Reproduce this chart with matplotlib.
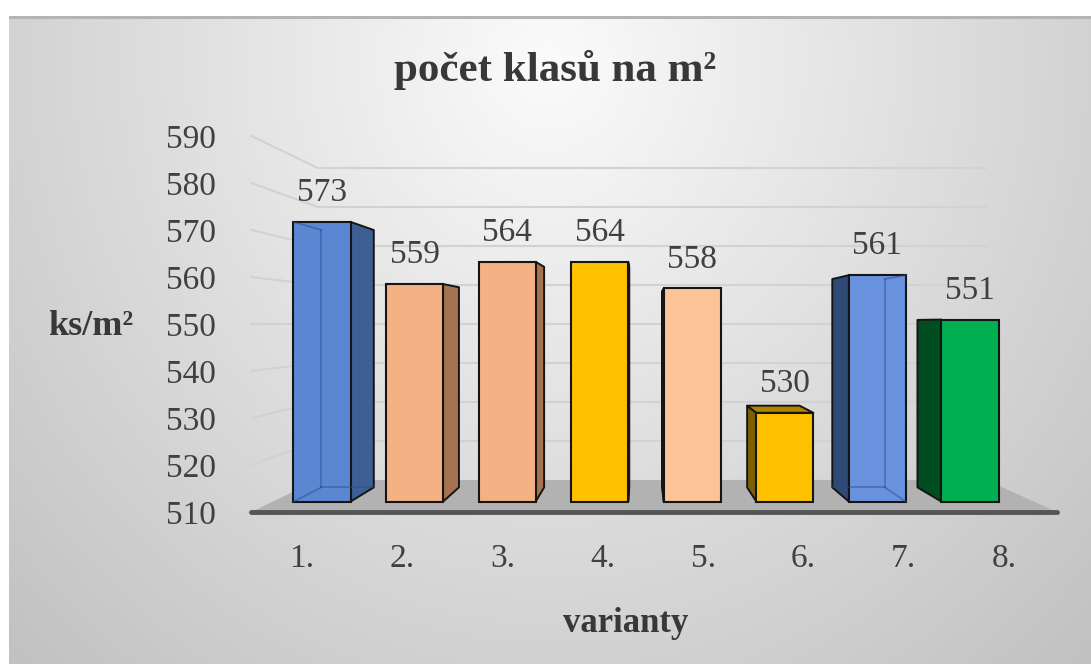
import numpy as np
import matplotlib
matplotlib.use('Agg')
import matplotlib.pyplot as plt
from matplotlib.patches import Polygon
from matplotlib.transforms import blended_transform_factory

# ---------------- data ----------------
categories = ['1.', '2.', '3.', '4.', '5.', '6.', '7.', '8.']
values = [573, 559, 564, 564, 558, 530, 561, 551]
y_ticks = [510, 520, 530, 540, 550, 560, 570, 580, 590]
front_colors = ['#5a86d2', '#f4b183', '#f4b183', '#ffc000', '#fbc398', '#ffc000', '#6892de', '#00b050']
side_colors = ['#3e5f94', '#a5734f', '#a5734f', '#a37b00', '#a98060', '#7f6000', '#2f4a74', '#004d21']
top_colors = ['#4a70b4', '#c98f66', '#c98f66', '#c99800', '#d29f7a', '#b08600', '#5078c0', '#008a3e']
translucent = [True, False, False, False, False, False, True, False]
title = 'počet klasů na m²'
y_label = 'ks/m²'
x_label = 'varianty'

# ---------------- layout ----------------
W, H = 1091, 664
plt.rcParams['font.family'] = ['Liberation Serif', 'DejaVu Serif']
TXT = '#404040'

BASE = y_ticks[0]
XC, VC = 3.45, 550.0           # vanishing centre (data units)
S_FRONT, S_BACK, S_WALL = 1.0586, 0.92, 0.878
BAR_W = 0.616
FLOOR_L, FLOOR_R = -0.53, 7.69
PX_CAT, X_ORG = 92.57, 322.0   # pixels per category, pixel of first bar
PX_VAL, HOR_PX = 4.44, 324.0   # pixels per value unit, horizon pixel from top


def proj(x, v, s):
    return XC + (x - XC) * s, VC + (v - VC) * s


fig = plt.figure(figsize=(W / 100, H / 100), dpi=100)
fig.patch.set_facecolor('white')

# background gradient panel
bg = fig.add_axes([9 / W, 0, 1 - 9 / W, (H - 16) / H])
bh, bw = H - 16, W - 9
yy, xx = np.mgrid[0:bh, 0:bw]
r = np.sqrt(((xx - 540) / 600.0) ** 2 + ((yy - 45) / 650.0) ** 2)
val = np.clip(251 - 45 * r, 186, 252) / 255.0
bg.imshow(np.dstack([val, val, val]), aspect='auto', extent=(0, bw, bh, 0))
bg.set_xlim(0, bw)
bg.set_ylim(bh, 0)
bg.axis('off')
bg.plot([0, bw], [1, 1], color='#b4b4b4', lw=2.2, zorder=5)

# main drawing axes (data coordinates)
ax = fig.add_axes([0, 0, 1, 1])
ax.set_xlim(-X_ORG / PX_CAT, (W - X_ORG) / PX_CAT)
ax.set_ylim(VC - (H - HOR_PX) / PX_VAL, VC + HOR_PX / PX_VAL)
ax.patch.set_alpha(0)
ax.axis('off')

GRID = '#d2d2d2'
for v in y_ticks[1:]:
    p1 = proj(FLOOR_L, v, S_WALL)
    p2 = proj(FLOOR_R, v, S_WALL)
    ax.plot([p1[0], p2[0]], [p1[1], p2[1]], color=GRID, lw=1.5, zorder=1)
    q1 = proj(FLOOR_L, v, S_FRONT)
    ax.plot([q1[0], p1[0]], [q1[1], p1[1]], color=GRID, lw=1.5, zorder=1)

# floor
floor = [proj(FLOOR_L, BASE, S_FRONT), proj(FLOOR_R, BASE, S_FRONT),
         proj(FLOOR_R, BASE, S_WALL), proj(FLOOR_L, BASE, S_WALL)]
ax.add_patch(Polygon(floor, closed=True, facecolor='#b2b2b2', edgecolor='none', zorder=2))
f1, f2 = floor[0], floor[1]
ax.plot([f1[0], f2[0]], [f1[1], f2[1]], color='#555555', lw=3.5,
        solid_capstyle='round', zorder=2.5)

xs = np.arange(len(values))
EDGE = '#151515'

# side and top faces
for i, v in enumerate(values):
    x = xs[i]
    edge_x = x + BAR_W / 2 if x < XC else x - BAR_W / 2
    side = [proj(edge_x, BASE, 1), proj(edge_x, v, 1), proj(edge_x, v, S_BACK), proj(edge_x, BASE, S_BACK)]
    ax.add_patch(Polygon(side, closed=True, facecolor=side_colors[i], edgecolor=EDGE,
                         lw=1.4, joinstyle='round', zorder=3))
    if v < VC:
        top = [proj(x - BAR_W / 2, v, 1), proj(x + BAR_W / 2, v, 1),
               proj(x + BAR_W / 2, v, S_BACK), proj(x - BAR_W / 2, v, S_BACK)]
        ax.add_patch(Polygon(top, closed=True, facecolor=top_colors[i], edgecolor=EDGE,
                             lw=1.4, joinstyle='round', zorder=3))

# front faces
ax.bar(xs, np.array(values) - BASE, bottom=BASE, width=BAR_W, color=front_colors,
       edgecolor=EDGE, linewidth=1.5, zorder=4)

# hidden edges seen through translucent bars
for i, v in enumerate(values):
    if not translucent[i]:
        continue
    x = xs[i]
    hid_x = x - BAR_W / 2 if x < XC else x + BAR_W / 2
    far_x = x + BAR_W / 2 if x < XC else x - BAR_W / 2
    b_top = proj(hid_x, v, S_BACK)
    b_bot = proj(hid_x, BASE, S_BACK)
    f_top = proj(hid_x, v, 1)
    f_bot = proj(hid_x, BASE, 1)
    o_bot = proj(far_x, BASE, S_BACK)
    segs = [(b_top, b_bot), (f_top, b_top), (f_bot, b_bot), (b_bot, o_bot)]
    for a, b in segs:
        ax.plot([a[0], b[0]], [a[1], b[1]], color='#2c4a85', lw=1.1, alpha=0.55, zorder=4.5)

# value labels
for i, v in enumerate(values):
    ax.annotate(str(v), (xs[i], v), xytext=(0, 10), textcoords='offset points',
                ha='center', va='bottom', fontsize=24, color=TXT, zorder=6)

# category labels
btr = blended_transform_factory(ax.transData, fig.transFigure)
LBL_C, LBL_S = (653 - X_ORG) / PX_CAT, 100.3 / PX_CAT
for i, c in enumerate(categories):
    ax.text(LBL_C + (i - 3.5) * LBL_S, 1 - 567 / H, c, transform=btr,
            ha='center', va='baseline', fontsize=24, color=TXT)

# value axis tick labels (front plane)
axt = fig.add_axes([219 / W, 0, 0.0005, 1])
sf = PX_VAL * S_FRONT
axt.set_ylim(VC - (H - HOR_PX) / sf, VC + HOR_PX / sf)
axt.set_yticks(y_ticks)
axt.set_yticklabels([str(t) for t in y_ticks])
axt.tick_params(axis='y', length=0, pad=2, labelsize=24, labelcolor=TXT)
axt.set_xticks([])
for s in axt.spines.values():
    s.set_visible(False)
axt.patch.set_alpha(0)

# titles
fig.text(555 / W, 1 - 81 / H, title, ha='center', va='baseline', fontsize=31,
         fontweight='bold', color='#383838')
fig.text(91 / W, 1 - 335 / H, y_label, ha='center', va='baseline', fontsize=26,
         fontweight='bold', color='#383838')
fig.text(626 / W, 1 - 632 / H, x_label, ha='center', va='baseline', fontsize=25,
         fontweight='bold', color='#383838')

fig.savefig('out.png', dpi=100)
